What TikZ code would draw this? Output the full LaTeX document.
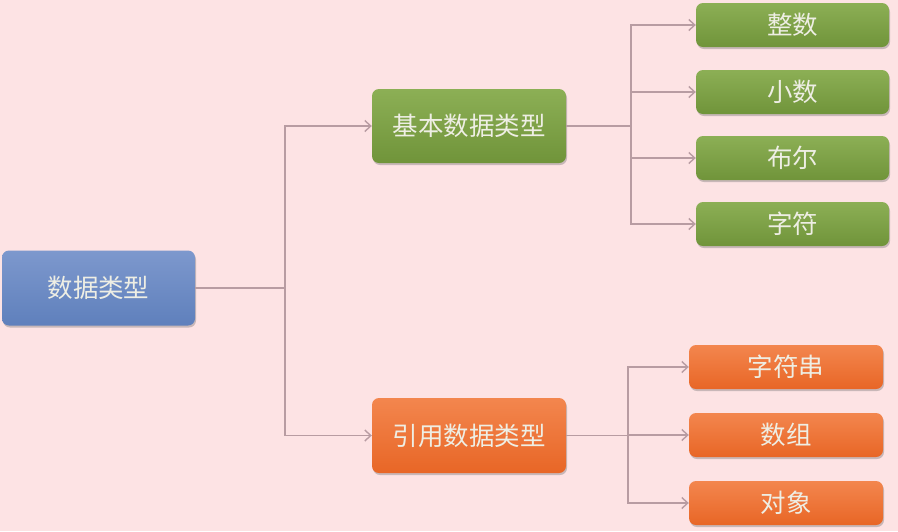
\documentclass[tikz,border=0pt]{standalone}
\usepackage{fontspec}
\newfontfamily\cjk{Noto Sans CJK SC}
\usetikzlibrary{arrows.meta,shadows}
\definecolor{bg}{HTML}{FDE3E4}
\definecolor{conncol}{HTML}{B89CA2}
\definecolor{txt}{HTML}{EEEEE4}
\definecolor{bluetop}{RGB}{125,152,205}
\definecolor{bluebot}{RGB}{95,128,188}
\definecolor{greentop}{RGB}{140,175,85}
\definecolor{greenbot}{RGB}{112,148,58}
\definecolor{orangetop}{RGB}{243,134,78}
\definecolor{orangebot}{RGB}{232,102,38}
\begin{document}
\begin{tikzpicture}[x=1pt,y=-1pt,
  cbox/.style={rounded corners=7pt, inner sep=0pt, text=txt,
    font=\cjk\fontsize{25.5}{28}\selectfont,
    drop shadow={shadow xshift=1pt, shadow yshift=-2pt, opacity=0.35, fill=black!60}},
  bluebox/.style={cbox, top color=bluetop, bottom color=bluebot},
  greenbox/.style={cbox, top color=greentop, bottom color=greenbot},
  orangebox/.style={cbox, top color=orangetop, bottom color=orangebot},
  connline/.style={draw=conncol, line width=1.4pt},
  arr/.style={connline, -{Straight Barb[length=6pt,width=11pt]}}]
\fill[bg] (0,0) rectangle (898,531);
\useasboundingbox (0,0) rectangle (898,531);

\node[bluebox, minimum width=193pt, minimum height=75pt] (root) at (98.5,288) {数据类型};
\node[greenbox, minimum width=194pt, minimum height=74pt] (basic) at (469,126) {基本数据类型};
\node[orangebox, minimum width=194pt, minimum height=75pt] (ref) at (469,435.5) {引用数据类型};

\node[greenbox, minimum width=193pt, minimum height=44pt] (g1) at (792.5,25) {整数};
\node[greenbox, minimum width=193pt, minimum height=44pt] (g2) at (792.5,92) {小数};
\node[greenbox, minimum width=193pt, minimum height=44pt] (g3) at (792.5,158) {布尔};
\node[greenbox, minimum width=193pt, minimum height=44pt] (g4) at (792.5,224) {字符};

\node[orangebox, minimum width=194pt, minimum height=44pt] (o1) at (786,367) {字符串};
\node[orangebox, minimum width=194pt, minimum height=44pt] (o2) at (786,435) {数组};
\node[orangebox, minimum width=194pt, minimum height=44pt] (o3) at (786,503) {对象};

\coordinate (j1) at (285,288);
\coordinate (j2) at (631,126);
\coordinate (j3) at (628,435.5);

\draw[connline] (root.east) -- (j1);
\draw[arr] (j1) |- (basic.west);
\draw[arr] (j1) |- (ref.west);

\draw[connline] (basic.east) -- (j2);
\draw[arr] (j2) |- (g1.west);
\draw[arr] (j2) |- (g2.west);
\draw[arr] (j2) |- (g3.west);
\draw[arr] (j2) |- (g4.west);

\draw[connline] (ref.east) -- (j3);
\draw[arr] (j3) |- (o1.west);
\draw[arr] (j3) |- (o2.west);
\draw[arr] (j3) |- (o3.west);
\end{tikzpicture}
\end{document}
